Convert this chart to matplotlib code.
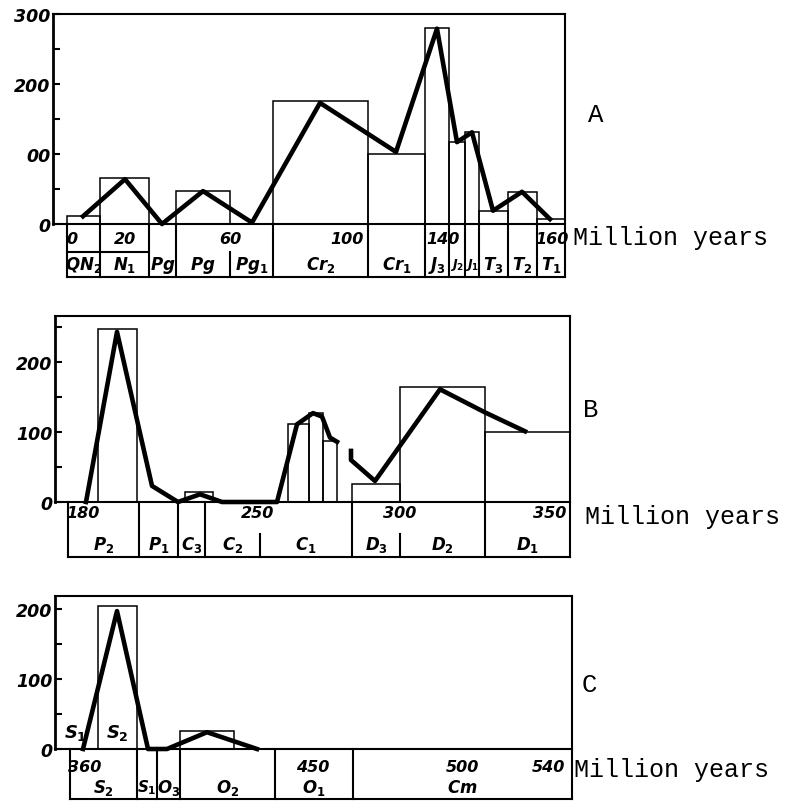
import numpy as np
import matplotlib
matplotlib.use('Agg')
import matplotlib.pyplot as plt

plt.rcParams['mathtext.fontset'] = 'custom'
plt.rcParams['mathtext.it'] = 'DejaVu Sans:italic:bold'
plt.rcParams['mathtext.rm'] = 'DejaVu Sans:bold'
plt.rcParams['mathtext.default'] = 'it'

# ---------------- DATA (schematic time axis units) ----------------
# Panel A
A_bounds = [67, 100, 149, 176, 230, 273, 368, 425, 449, 465, 479, 508, 537, 565]
A_stages = ['QN_2', 'N_1', 'Pg', 'Pg', 'Pg_1', 'Cr_2', 'Cr_1', 'J_3', 'J_2', 'J_1', 'T_3', 'T_2', 'T_1']
A_bar_left = [67, 100, 176, 273, 368, 425, 449, 465, 479, 508, 537]
A_bar_right = [100, 149, 230, 368, 425, 449, 465, 479, 508, 537, 565]
A_bar_h = [11, 66, 47, 176, 100, 280, 117, 131, 18, 46, 7]
A_line_x = [83, 125, 162, 203, 252, 320, 396, 437, 457, 472, 493, 522, 550]
A_line_y = [11, 64, 0, 47, 2, 173, 103, 279, 117, 131, 19, 46, 7]
A_age_pos = [72, 125, 230, 347, 443, 552]
A_age_lab = ['0', '20', '60', '100', '140', '160']
A_yticks = [0, 100, 200, 300]
A_yticklabels = ['0', '00', '200', '300']
A_yminor = [50, 150, 250]

# Panel B
B_bounds = [68, 139, 178, 205, 260, 352, 400, 485, 570]
B_stages = ['P_2', 'P_1', 'C_3', 'C_2', 'C_1', 'D_3', 'D_2', 'D_1']
B_bar_left = [98, 185, 288, 309, 323, 352, 400, 485]
B_bar_right = [137, 213, 309, 323, 337, 400, 485, 570]
B_bar_h = [247, 14, 111, 127, 87, 26, 164, 100]
B_line_x = [86, 117, 152, 178, 200, 222, 277, 297, 313, 322, 330, 337, np.nan,
            351, 351, 375, 440, 485, 525]
B_line_y = [0, 243, 23, 0, 11, 0, 0, 111, 127, 122, 92, 86, np.nan,
            73, 60, 30, 161, 128, 101]
B_age_pos = [83, 258, 400, 550]
B_age_lab = ['180', '250', '300', '350']
B_yticks = [0, 100, 200]
B_yticklabels = ['0', '100', '200']
B_yminor = [50, 150, 250]

# Panel C
C_bounds = [70, 137, 157, 180, 275, 353, 572]
C_stages = ['S_2', 'S_1', 'O_3', 'O_2', 'O_1', 'Cm']
C_bar_left = [98, 180]
C_bar_right = [137, 234]
C_bar_h = [204, 26]
C_line_x = [83, 117, 148, 167, 207, 257]
C_line_y = [0, 197, 0, 0, 24, 0]
C_age_pos = [85, 313, 462, 548]
C_age_lab = ['360', '450', '500', '540']
C_yticks = [0, 100, 200]
C_yticklabels = ['0', '100', '200']
C_yminor = [50, 150]
C_inner_lab = ['S_1', 'S_2']
C_inner_x = [75, 117]
C_inner_y = [24, 24]

# ---------------- LAYOUT ----------------
W, H = 785, 803
K = 0.7  # px per unit on the value axis
fig = plt.figure(figsize=(W / 100, H / 100), dpi=100)

LW_FRAME = 1.5
LW_BAR = 1.1
LW_LINE = 3.3


def panel(data, g):
    (bounds, stages, bl, br, bh, lx, ly, apos, alab, yt, ytl, ymin_t) = data
    x0, x1 = g['axis_x'], g['right']
    top, base, tb = g['top'], g['base'], g['tbot']
    ymax = (base - top) / K
    ymin = -(tb - base) / K
    ax = fig.add_axes([x0 / W, 1 - tb / H, (x1 - x0) / W, (tb - top) / H])
    ax.set_xlim(x0, x1)
    ax.set_ylim(ymin, ymax)
    for s in ['top', 'right', 'bottom']:
        ax.spines[s].set_visible(False)
    ax.spines['left'].set_bounds(0, ymax)
    ax.spines['left'].set_linewidth(2.0)
    ax.set_xticks([])
    ax.set_yticks(yt)
    ax.set_yticklabels(ytl)
    ax.set_yticks(ymin_t, minor=True)
    ax.tick_params(axis='y', which='both', direction='in', length=5, width=1.5,
                   pad=2, labelsize=12.5)
    for lab in ax.get_yticklabels():
        lab.set_fontstyle('italic')
        lab.set_fontweight('bold')
    kw = dict(color='k', lw=LW_FRAME, clip_on=False, solid_capstyle='projecting')
    # frame
    ax.plot([x0, x1], [ymax, ymax], **kw)
    ax.plot([x1, x1], [ymin, ymax], **kw)
    ax.plot([x0, x1], [0, 0], **kw)
    # table
    tl = bounds[0]
    ax.plot([tl, x1], [ymin, ymin], **kw)
    ax.plot([tl, tl], [ymin, 0], **kw)
    rowdiv = -(g['rowdiv'] - base) / K
    for i, b in enumerate(bounds[1:-1], start=1):
        if i in g['partial']:
            ax.plot([b, b], [rowdiv, ymin], **kw)
        else:
            ax.plot([b, b], [0, ymin], **kw)
    if g.get('hline'):
        ax.plot(g['hline'], [rowdiv, rowdiv], **kw)
    # bars
    ax.bar(bl, bh, width=np.array(br) - np.array(bl), align='edge', fill=False,
           edgecolor='k', linewidth=LW_BAR, clip_on=False)
    # curve
    ax.plot(lx, ly, color='k', lw=LW_LINE, solid_joinstyle='round', clip_on=False)
    # labels
    r1 = -(g['row1'] - base) / K
    r2 = -(g['row2'] - base) / K
    for p, t in zip(apos, alab):
        ax.text(p, r1, t, ha='center', va='center', fontsize=11.5,
                fontstyle='italic', fontweight='bold')
    for a, b, s in zip(bounds[:-1], bounds[1:], stages):
        w = b - a
        fs = 12 if w >= 22 else (11 if w >= 18 else 9)
        ax.text((a + b) / 2, r2, '$' + s + '$', ha='center', va='center', fontsize=fs)
    fig.text(g['my'][0] / W, 1 - g['my'][1] / H, 'Million years', ha='left',
             va='center', family='Liberation Mono', fontsize=18)
    fig.text(g['let'][0] / W, 1 - g['let'][1] / H, g['letter'], ha='left',
             va='center', family='Liberation Mono', fontsize=18.5)
    return ax


gA = dict(axis_x=53, right=565, top=15, base=225, tbot=278, rowdiv=253,
          row1=240, row2=265, partial=[4], hline=[67, 149],
          my=(573, 238), let=(588, 115), letter='A')
gB = dict(axis_x=55, right=570, top=317, base=503, tbot=558, rowdiv=535,
          row1=514, row2=545, partial=[4, 6], hline=None,
          my=(585, 517), let=(583, 410), letter='B')
gC = dict(axis_x=55, right=572, top=597, base=750, tbot=800, rowdiv=775,
          row1=768, row2=788, partial=[], hline=None,
          my=(574, 770), let=(582, 685), letter='C')

panel((A_bounds, A_stages, A_bar_left, A_bar_right, A_bar_h, A_line_x, A_line_y,
       A_age_pos, A_age_lab, A_yticks, A_yticklabels, A_yminor), gA)
panel((B_bounds, B_stages, B_bar_left, B_bar_right, B_bar_h, B_line_x, B_line_y,
       B_age_pos, B_age_lab, B_yticks, B_yticklabels, B_yminor), gB)
axC = panel((C_bounds, C_stages, C_bar_left, C_bar_right, C_bar_h, C_line_x, C_line_y,
             C_age_pos, C_age_lab, C_yticks, C_yticklabels, C_yminor), gC)
for x, y, s in zip(C_inner_x, C_inner_y, C_inner_lab):
    axC.text(x, y, '$' + s + '$', ha='center', va='center', fontsize=13)

fig.savefig('out.png', dpi=100)
